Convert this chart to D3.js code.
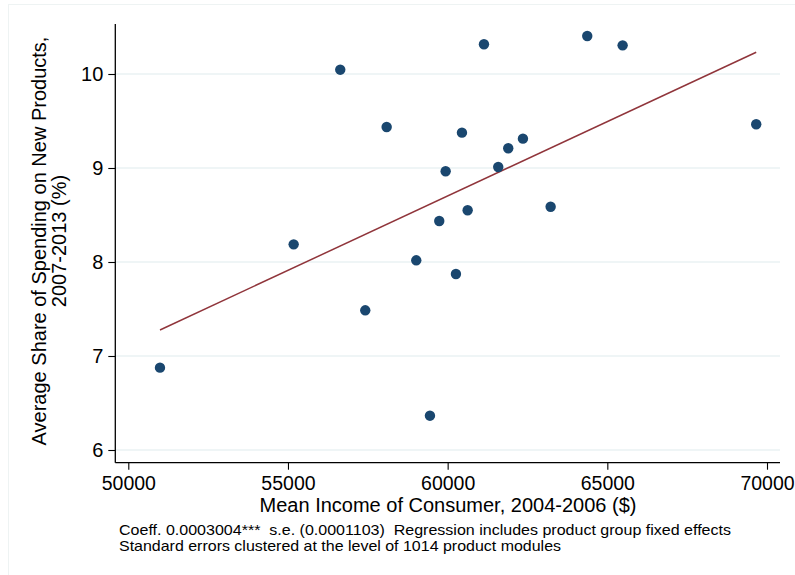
<!DOCTYPE html>
<html>
<head>
<meta charset="utf-8">
<script src="https://cdn.jsdelivr.net/npm/d3@7"></script>
<style>
  html, body { margin: 0; padding: 0; background: #fff; }
  text { font-family: "Liberation Sans", Arial, Helvetica, sans-serif; fill: #000; }
</style>
</head>
<body>
<svg id="chart" width="795" height="575"></svg>
<script>
// Data
const incomes = [50992, 55178, 56637, 57420, 58090, 59017, 59446, 59737, 59937, 60260,
                 60448, 60626, 61137, 61584, 61897, 62357, 63225, 64371, 65479, 69662];
const shares  = [6.876, 8.188, 10.046, 7.486, 9.436, 8.018, 6.365, 8.436, 8.965, 7.872,
                 9.376, 8.550, 10.316, 9.011, 9.210, 9.312, 8.588, 10.404, 10.305, 9.465];
const fitX = [50992, 69662];
const fitY = [7.277, 10.231];
const xTicks = [50000, 55000, 60000, 65000, 70000];
const yTicks = [6, 7, 8, 9, 10];
const xTitle = "Mean Income of Consumer, 2004-2006 ($)";
const yTitle = ["Average Share of Spending on New Products,", "2007-2013 (%)"];
const notes = ["Coeff. 0.0003004***  s.e. (0.0001103)  Regression includes product group fixed effects",
               "Standard errors clustered at the level of 1014 product modules"];
const noteWidths = [612, 442];

const svg = d3.select("#chart");
const pLeft = 115.3, pRight = 780, pTop = 24, pBottom = 462.7;

const x = d3.scaleLinear().domain([50000, 70000]).range([128.3, 767]);
const y = d3.scaleLinear().domain([6, 10]).range([450, 74]);

// outer faint frame
svg.append("rect").attr("x", 8.5).attr("y", 4.5).attr("width", 800).attr("height", 600)
  .attr("fill", "none").attr("stroke", "#eef3f3").attr("stroke-width", 1);

// gridlines
svg.append("g").selectAll("line").data(yTicks).join("line")
  .attr("x1", pLeft).attr("x2", pRight)
  .attr("y1", d => y(d)).attr("y2", d => y(d))
  .attr("stroke", "#eaf2f3").attr("stroke-width", 1.5);

// axes
const yAxis = d3.axisLeft(y).tickValues(yTicks).tickSize(7).tickPadding(5).tickFormat(d3.format("d"));
const gy = svg.append("g").attr("transform", `translate(${pLeft},0)`).call(yAxis);
gy.select(".domain").remove();
gy.append("line").attr("x1", 0).attr("x2", 0).attr("y1", pTop).attr("y2", pBottom)
  .attr("stroke", "#000").attr("stroke-width", 1.3);
gy.selectAll(".tick line").attr("stroke", "#000").attr("stroke-width", 1.1);
gy.selectAll(".tick text").attr("font-size", 20).attr("fill", "#000")
  .style("font-family", "'Liberation Sans', Arial, sans-serif");

const xAxis = d3.axisBottom(x).tickValues(xTicks).tickSize(7).tickPadding(6).tickFormat(d3.format("d"));
const gx = svg.append("g").attr("transform", `translate(0,${pBottom})`).call(xAxis);
gx.select(".domain").remove();
gx.append("line").attr("x1", pLeft).attr("x2", pRight).attr("y1", 0).attr("y2", 0)
  .attr("stroke", "#000").attr("stroke-width", 1.3);
gx.selectAll(".tick line").attr("stroke", "#000").attr("stroke-width", 1.1);
gx.selectAll(".tick text").attr("font-size", 19.5).attr("fill", "#000")
  .style("font-family", "'Liberation Sans', Arial, sans-serif");

// fit line
svg.append("line")
  .attr("x1", x(fitX[0])).attr("y1", y(fitY[0]))
  .attr("x2", x(fitX[1])).attr("y2", y(fitY[1]))
  .attr("stroke", "#90353b").attr("stroke-width", 1.5);

// points
svg.append("g").selectAll("circle").data(incomes.map((v, i) => [v, shares[i]])).join("circle")
  .attr("cx", d => x(d[0])).attr("cy", d => y(d[1])).attr("r", 5.2)
  .attr("fill", "#1a476f");

// axis titles
svg.append("text").attr("x", 448).attr("y", 512).attr("text-anchor", "middle")
  .attr("font-size", 20).text(xTitle);

const yt = svg.append("text").attr("transform", "translate(0,241) rotate(-90)")
  .attr("text-anchor", "middle").attr("font-size", 20);
yt.append("tspan").attr("x", 0).attr("y", 46).text(yTitle[0]);
yt.append("tspan").attr("x", 0).attr("y", 66).text(yTitle[1]);

// notes
svg.append("g").selectAll("text").data(notes).join("text")
  .attr("x", 119).attr("y", (d, i) => 535 + i * 16)
  .attr("font-size", 15).attr("xml:space", "preserve").style("white-space", "pre")
  .attr("textLength", (d, i) => noteWidths[i]).attr("lengthAdjust", "spacingAndGlyphs")
  .text(d => d);
</script>
</body>
</html>
